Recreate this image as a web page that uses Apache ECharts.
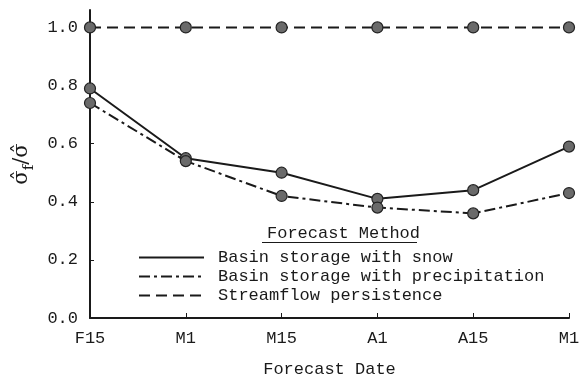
<!DOCTYPE html>
<html lang="en" style="height: 100%">
<head>
    <meta charset="UTF-8">
    <title>Forecast Method</title>
    <script src="https://cdn.jsdelivr.net/npm/echarts@6/dist/echarts.min.js"></script>
</head>
<body style="height: 100%; margin: 0; background: #fff">
<div id="main" style="width: 584px; height: 383px"></div>
<script>
    var dates = ['F15', 'M1', 'M15', 'A1', 'A15', 'M1'];
    var yTicks = [0.2, 0.4, 0.6, 0.8, 1.0];
    var snow = [0.79, 0.55, 0.50, 0.41, 0.44, 0.59];
    var precip = [0.74, 0.54, 0.42, 0.38, 0.36, 0.43];
    var persistence = [1.0, 1.0, 1.0, 1.0, 1.0, 1.0];

    var mono = 'Liberation Mono';
    var ink = '#1a1a1a';

    function makeSeries(name, data, dash) {
        return {
            name: name,
            type: 'line',
            data: data,
            symbol: 'circle',
            symbolSize: 11,
            itemStyle: { color: '#6a6a6a', borderColor: '#222', borderWidth: 1.2 },
            lineStyle: { color: ink, width: 2, type: dash },
            z: 3
        };
    }

    var myoption = {
        backgroundColor: '#fff',
        animation: false,
        textStyle: { fontFamily: mono, color: ink },
        grid: { left: 90, right: 15, top: 10, bottom: 64 },
        title: {
            text: 'Forecast Method',
            left: 262,
            top: 220,
            textStyle: { fontFamily: mono, fontSize: 17, fontWeight: 'normal', color: ink }
        },
        graphic: [{
            type: 'rect',
            shape: { x: 262, y: 242, width: 155, height: 1 },
            style: { fill: ink }
        }],
        legend: {
            orient: 'vertical',
            left: 133,
            top: 243,
            itemWidth: 65,
            itemHeight: 12,
            itemGap: 0,
            itemStyle: { opacity: 0 },
            textStyle: { fontFamily: mono, fontSize: 17, color: ink, lineHeight: 19, padding: [0, 0, 0, 9] },
            data: ['Basin storage with snow', 'Basin storage with precipitation', 'Streamflow persistence']
        },
        xAxis: {
            type: 'category',
            data: dates,
            boundaryGap: false,
            name: 'Forecast Date',
            nameLocation: 'middle',
            nameGap: 43,
            nameTextStyle: { fontFamily: mono, fontSize: 17, color: ink },
            axisLine: { lineStyle: { color: ink, width: 2 } },
            axisTick: { inside: true, length: 5, lineStyle: { color: ink } },
            axisLabel: { fontFamily: mono, fontSize: 17, color: ink, margin: 12 },
            splitLine: { show: false }
        },
        yAxis: {
            type: 'value',
            min: 0,
            max: 1.06,
            interval: 0.2,
            name: '{a|σ̂}{b|f}{a|/σ̂}',
            nameLocation: 'middle',
            nameGap: 52,
            nameTextStyle: {
                rich: {
                    a: { fontFamily: 'DejaVu Serif', fontSize: 21, color: ink, lineHeight: 30, verticalAlign: 'middle' },
                    b: { fontFamily: 'DejaVu Serif', fontSize: 15, color: ink, lineHeight: 30, verticalAlign: 'bottom' }
                }
            },
            axisLine: { show: true, lineStyle: { color: ink, width: 2 } },
            axisTick: { show: true, inside: true, length: 4, customValues: yTicks, lineStyle: { color: ink } },
            axisLabel: {
                fontFamily: mono, fontSize: 17, color: ink, margin: 12,
                formatter: function (v) { return v > 1.001 ? '' : v.toFixed(1); }
            },
            splitLine: { show: false }
        },
        series: [
            makeSeries('Basin storage with snow', snow, 'solid'),
            makeSeries('Basin storage with precipitation', precip, [11, 4, 3, 4]),
            makeSeries('Streamflow persistence', persistence, [11, 6])
        ]
    };
    var myChart = echarts.init(document.getElementById('main'));
    myChart.setOption(myoption);
</script>
</body>
</html>
